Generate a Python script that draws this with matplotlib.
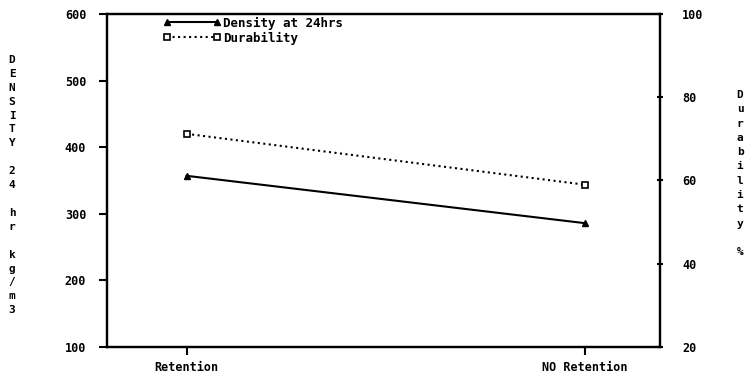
import matplotlib.pyplot as plt
import numpy as np

# data
categories = ["Retention", "NO Retention"]
density = [357, 286]       # kg/m3, left axis
durability = [71.2, 59.0]  # %, right axis

left_ticks = [100, 200, 300, 400, 500, 600]
right_ticks = [20, 40, 60, 80, 100]

font = dict(family="DejaVu Sans Mono", fontweight="bold", fontsize=8.5)
lab_font = dict(family="DejaVu Sans Mono", fontweight="bold", fontsize=8)

fig = plt.figure(figsize=(7.51, 3.76), dpi=100)
ax = fig.add_axes([0.1425, 0.077, 0.7365, 0.886])
ax2 = ax.twinx()

x = np.arange(1, len(categories) + 1)
l1, = ax.plot(x, density, "-", color="black", lw=1.5, marker="^", ms=5,
              label="Density at 24hrs")
l2, = ax2.plot(x, durability, ":", color="black", lw=1.5, marker="s", ms=5,
               mfc="white", mec="black", mew=1.2, label="Durability")

ax.set_xlim(0.8, 2.19)
ax.set_ylim(100, 600)
ax2.set_ylim(20, 100)
ax.set_xticks(x)
ax.set_xticklabels(categories, **font)
ax.set_yticks(left_ticks)
ax.set_yticklabels([str(t) for t in left_ticks], **font)
ax2.set_yticks(right_ticks)
ax2.set_yticklabels([str(t) for t in right_ticks], **font)

ax.tick_params(axis="x", direction="out", length=6, width=1.5, pad=4)
ax.tick_params(axis="y", direction="out", length=6, width=1.5, pad=9)
ax2.tick_params(axis="y", direction="inout", length=4, width=1.5, pad=14)
for a in (ax, ax2):
    for s in a.spines.values():
        s.set_linewidth(1.6)

leg = ax.legend(handles=[l1, l2], loc="upper left", bbox_to_anchor=(0.102, 0.992),
                frameon=False, numpoints=2, handlelength=4.6, handletextpad=0.2,
                borderpad=0, borderaxespad=0, labelspacing=0.15,
                prop=dict(family="DejaVu Sans Mono", weight="bold", size=9))

# stacked axis labels, one character per line
left_label = "DENSITY 24 hr kg/m3"
for i, ch in enumerate(left_label):
    if ch != " ":
        fig.text(12 / 751, 1 - (60 + i * 13.9) / 376, ch, ha="center", va="center", **lab_font)
right_label = "Durability %"
for i, ch in enumerate(right_label):
    if ch != " ":
        fig.text(740 / 751, 1 - (95 + i * 14.3) / 376, ch, ha="center", va="center", **lab_font)

fig.savefig("out.png", dpi=100)
